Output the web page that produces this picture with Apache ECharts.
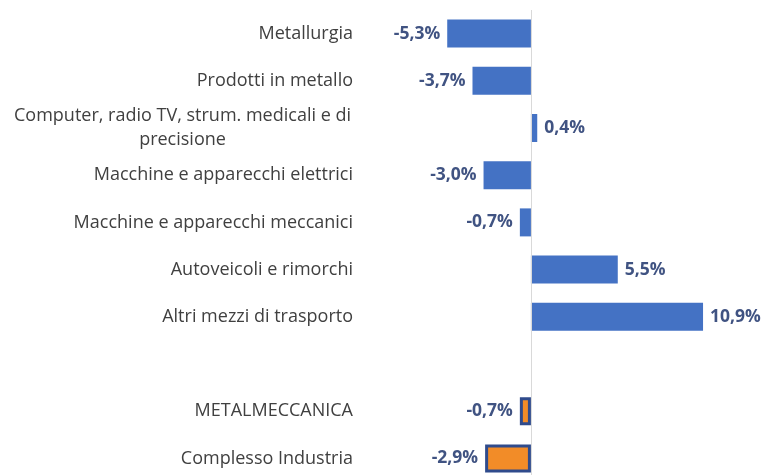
<!DOCTYPE html>
<html>
<head>
<meta charset="utf-8">
<script src="https://cdn.jsdelivr.net/npm/echarts@6/dist/echarts.min.js"></script>
<style>
  html, body { margin: 0; padding: 0; background: #fff; overflow: hidden; }
  #chart { width: 764px; height: 482px; }
</style>
</head>
<body>
<div id="chart"></div>
<script>
// categories, top to bottom ('' = empty spacer row)
const categories = [
  'Metallurgia',
  'Prodotti in metallo',
  'Computer, radio TV, strum. medicali e di\nprecisione',
  'Macchine e apparecchi elettrici',
  'Macchine e apparecchi meccanici',
  'Autoveicoli e rimorchi',
  'Altri mezzi di trasporto',
  '',
  'METALMECCANICA',
  'Complesso Industria'
];
// sector changes (%), blue bars
const sectorValues = [-5.3, -3.7, 0.4, -3.0, -0.7, 5.5, 10.9, null, null, null];
// totals (%), orange bars
const totalValues = [null, null, null, null, null, null, null, null, -0.7, -2.9];

const fontFamily = '"Open Sans", Lato, sans-serif';

function withLabelSide(values) {
  return values.map(function (v) {
    if (v == null) return null;
    return { value: v, label: { position: v < 0 ? 'left' : 'right' } };
  });
}

const labelStyle = {
  show: true,
  distance: 7,
  color: '#405382',
  fontWeight: 'bold',
  fontSize: 17.5,
  fontFamily: fontFamily,
  formatter: function (p) {
    return p.value.toFixed(1).replace('.', ',') + '%';
  }
};

// chart div is a little taller than the window: the last row is clipped as in the original
const chart = echarts.init(document.getElementById('chart'));
chart.setOption({
  animation: false,
  grid: { left: 373, width: 379, top: 10, bottom: 0, containLabel: false },
  xAxis: {
    type: 'value',
    min: -10,
    max: 14,
    show: false
  },
  yAxis: {
    type: 'category',
    inverse: true,
    data: categories,
    axisLine: { show: false },
    axisTick: { show: false },
    axisLabel: {
      margin: 20,
      color: '#404040',
      fontSize: 18,
      fontFamily: fontFamily,
      lineHeight: 24,
      formatter: function (v) {
        if (v.indexOf('\n') < 0) return v;
        return v.split('\n').map(function (s) { return '{c|' + s + '}'; }).join('\n');
      },
      rich: {
        c: { width: 341, align: 'center', color: '#404040', fontSize: 18, fontFamily: fontFamily, lineHeight: 24 }
      }
    }
  },
  series: [
    {
      type: 'bar',
      data: withLabelSide(sectorValues),
      barWidth: 28,
      barGap: '-100%',
      itemStyle: { color: '#4472C4' },
      label: labelStyle,
      markLine: {
        silent: true,
        symbol: 'none',
        label: { show: false },
        lineStyle: { color: '#D9D9D9', type: 'solid', width: 1 },
        data: [{ xAxis: 0 }]
      }
    },
    {
      type: 'bar',
      data: withLabelSide(totalValues),
      barWidth: 28,
      itemStyle: { color: '#F28C28', borderColor: '#2F4B8C', borderWidth: 3 },
      label: labelStyle
    }
  ]
});
</script>
</body>
</html>
